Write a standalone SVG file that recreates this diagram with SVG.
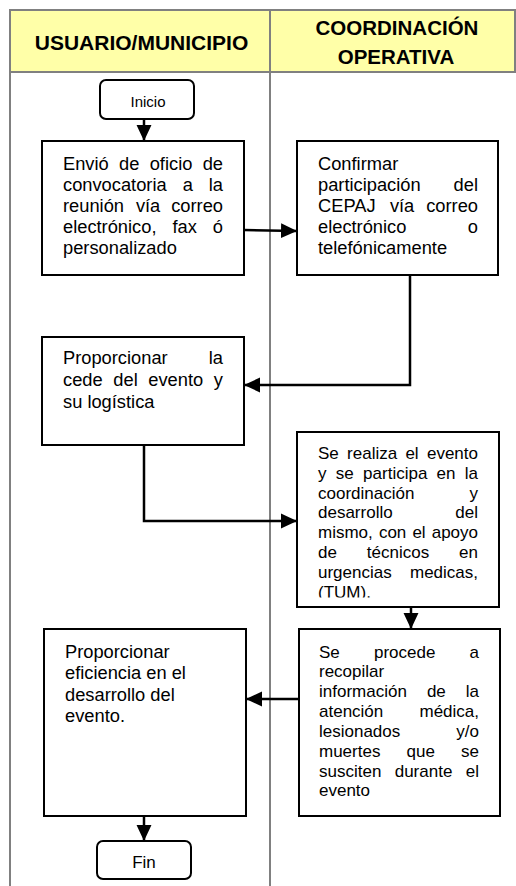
<svg xmlns="http://www.w3.org/2000/svg" width="516" height="886" viewBox="0 0 516 886">
<style>
.grid{stroke:#808080;stroke-width:2;fill:none}
.hdr{fill:#FFFFA8;stroke:#808080;stroke-width:2}
.ht{font-family:"Liberation Sans",Arial,sans-serif;font-weight:bold;fill:#000;text-anchor:middle}
.box{fill:#fff;stroke:#000;stroke-width:2}
.t{font-family:"Liberation Sans",Arial,sans-serif;font-size:18.3px;fill:#000}
.s{font-family:"Liberation Sans",Arial,sans-serif;font-size:17px;fill:#000}
.e{text-anchor:end}
.term{font-family:"Liberation Sans",Arial,sans-serif;fill:#000;text-anchor:middle}
.con{stroke:#000;stroke-width:2.5;fill:none;marker-end:url(#ah)}
</style>
<defs>
<marker id="ah" markerUnits="userSpaceOnUse" markerWidth="16" markerHeight="16" viewBox="0 0 15 14" refX="15" refY="7" orient="auto">
<path d="M0,0 L15,7 L0,14 Z" fill="#000"/>
</marker>
<clipPath id="c4"><rect x="297" y="432" width="202" height="165.5"/></clipPath>
</defs>
<rect x="0" y="0" width="516" height="886" fill="#fff"/>
<g id="table">
<rect class="hdr" x="10" y="10" width="505" height="62"/>
<line class="grid" x1="10" y1="10" x2="10" y2="886"/>
<line class="grid" x1="270" y1="10" x2="270" y2="886"/>
<text class="ht" x="141.5" y="50" font-size="21">USUARIO/MUNICIPIO</text>
<text class="ht" x="397" y="34.5" font-size="20.5">COORDINACIÓN</text>
<text class="ht" x="396" y="64" font-size="20.5">OPERATIVA</text>
</g>
<g id="connectors">
<line class="con" x1="144" y1="119" x2="144" y2="141"/>
<polyline class="con" points="244,230 297,231"/>
<polyline class="con" points="410,275 410,385 244,385"/>
<polyline class="con" points="144,445 144,521 297,521"/>
<line class="con" x1="411" y1="607" x2="411" y2="629"/>
<line class="con" x1="299" y1="699" x2="246" y2="699"/>
<line class="con" x1="144" y1="816" x2="144" y2="841"/>
</g>
<g id="inicio">
<rect class="box" x="100" y="80" width="94" height="39" rx="6"/>
<text class="term" x="148" y="107" font-size="15">Inicio</text>
</g>
<g id="envio">
<rect class="box" x="42" y="141" width="202" height="134"/>
<text class="t"><tspan x="63" y="170">Envió</tspan><tspan x="119" y="170">de</tspan><tspan x="149.7" y="170">oficio</tspan><tspan class="e" x="223" y="170">de</tspan></text>
<text class="t"><tspan x="63" y="191">convocatoria</tspan><tspan x="182.7" y="191">a</tspan><tspan class="e" x="223" y="191">la</tspan></text>
<text class="t"><tspan x="63" y="212">reunión</tspan><tspan x="135.9" y="212">vía</tspan><tspan class="e" x="223" y="212">correo</tspan></text>
<text class="t"><tspan x="63" y="233">electrónico,</tspan><tspan x="172.5" y="233">fax</tspan><tspan class="e" x="223" y="233">ó</tspan></text>
<text class="t" x="63" y="254">personalizado</text>
</g>
<g id="confirmar">
<rect class="box" x="297" y="141" width="201" height="134"/>
<text class="t" x="318" y="170">Confirmar</text>
<text class="t"><tspan x="318" y="191">participación</tspan><tspan class="e" x="478" y="191">del</tspan></text>
<text class="t"><tspan x="318" y="212">CEPAJ</tspan><tspan x="389.9" y="212">vía</tspan><tspan class="e" x="478" y="212">correo</tspan></text>
<text class="t"><tspan x="318" y="233">electrónico</tspan><tspan class="e" x="478" y="233">o</tspan></text>
<text class="t" x="318" y="254">telefónicamente</text>
</g>
<g id="cede">
<rect class="box" x="42" y="337" width="202" height="108"/>
<text class="t"><tspan x="63" y="364">Proporcionar</tspan><tspan class="e" x="223" y="364">la</tspan></text>
<text class="t"><tspan x="63" y="386">cede</tspan><tspan x="113.3" y="386">del</tspan><tspan x="148.3" y="386">evento</tspan><tspan class="e" x="223" y="386">y</tspan></text>
<text class="t" x="63" y="408">su logística</text>
</g>
<g id="evento">
<rect class="box" x="297" y="432" width="202" height="175"/>
<g clip-path="url(#c4)">
<text class="s"><tspan x="318" y="459">Se</tspan><tspan x="347.1" y="459">realiza</tspan><tspan x="405.4" y="459">el</tspan><tspan class="e" x="478" y="459">evento</tspan></text>
<text class="s"><tspan x="318" y="479">y</tspan><tspan x="335.8" y="479">se</tspan><tspan x="363.1" y="479">participa</tspan><tspan x="436.6" y="479">en</tspan><tspan class="e" x="478" y="479">la</tspan></text>
<text class="s"><tspan x="318" y="499">coordinación</tspan><tspan class="e" x="478" y="499">y</tspan></text>
<text class="s"><tspan x="318" y="518">desarrollo</tspan><tspan class="e" x="478" y="518">del</tspan></text>
<text class="s"><tspan x="318" y="538">mismo,</tspan><tspan x="378.9" y="538">con</tspan><tspan x="412.4" y="538">el</tspan><tspan class="e" x="478" y="538">apoyo</tspan></text>
<text class="s"><tspan x="318" y="558">de</tspan><tspan x="366.8" y="558">técnicos</tspan><tspan class="e" x="478" y="558">en</tspan></text>
<text class="s"><tspan x="318" y="578">urgencias</tspan><tspan class="e" x="478" y="578">medicas,</tspan></text>
<text class="s" x="318" y="598">(TUM).</text>
</g>
</g>
<g id="recopilar">
<rect class="box" x="299" y="629" width="201" height="187"/>
<text class="s"><tspan x="319" y="658">Se</tspan><tspan x="374" y="658">procede</tspan><tspan class="e" x="479" y="658">a</tspan></text>
<text class="s" x="319" y="677">recopilar</text>
<text class="s"><tspan x="319" y="697">información</tspan><tspan x="426.9" y="697">de</tspan><tspan class="e" x="479" y="697">la</tspan></text>
<text class="s"><tspan x="319" y="717">atención</tspan><tspan class="e" x="479" y="717">médica,</tspan></text>
<text class="s"><tspan x="319" y="737">lesionados</tspan><tspan class="e" x="479" y="737">y/o</tspan></text>
<text class="s"><tspan x="319" y="757">muertes</tspan><tspan x="406.6" y="757">que</tspan><tspan class="e" x="479" y="757">se</tspan></text>
<text class="s"><tspan x="319" y="777">susciten</tspan><tspan x="394.7" y="777">durante</tspan><tspan class="e" x="479" y="777">el</tspan></text>
<text class="s" x="319" y="796">evento</text>
</g>
<g id="eficiencia">
<rect class="box" x="44" y="629" width="202" height="187"/>
<text class="t" x="65" y="658">Proporcionar</text>
<text class="t" x="65" y="679">eficiencia en el</text>
<text class="t" x="65" y="701">desarrollo del</text>
<text class="t" x="65" y="722">evento.</text>
</g>
<g id="fin">
<rect class="box" x="97" y="841" width="94" height="38" rx="6"/>
<text class="term" x="144" y="868" font-size="17">Fin</text>
</g>
</svg>
